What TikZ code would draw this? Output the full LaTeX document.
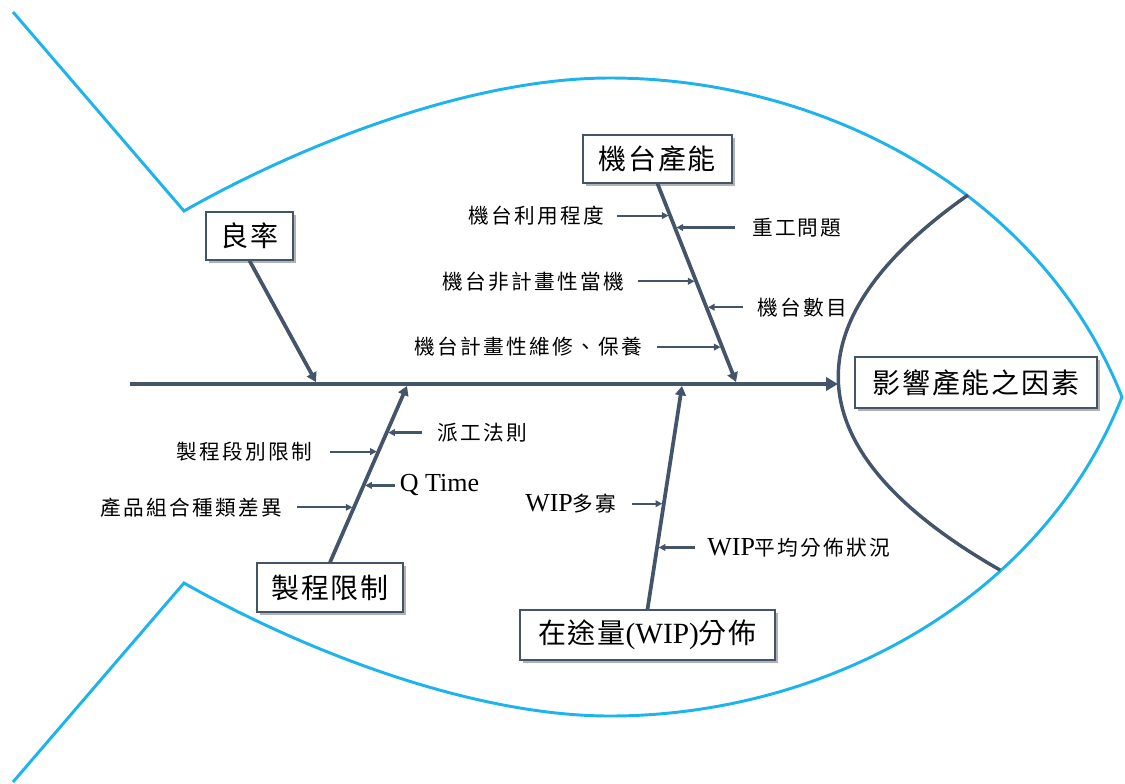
\documentclass[tikz,border=0pt]{standalone}
\usepackage{fontspec}
\setmainfont{Liberation Serif}
\newfontfamily\cjkbig{Noto Sans CJK TC}[LetterSpace=6]
\newfontfamily\cjksm{Noto Sans CJK TC}[LetterSpace=11]
\usetikzlibrary{arrows.meta,calc,shadows}
\definecolor{fishc}{HTML}{1DB3EC}
\definecolor{bonec}{HTML}{44546A}
\newcommand\latS[1]{{\rmfamily\fontsize{19.5}{22}\selectfont #1}}
\newcommand\latB[1]{{\rmfamily\fontsize{22}{24}\selectfont #1}}
\tikzset{
 fish/.style={draw=fishc, line width=2.2pt, line join=miter},
 gill/.style={draw=bonec, line width=2.6pt},
 spine/.style={draw=bonec, line width=3pt, -{Triangle[length=9pt,width=10pt]}},
 bone/.style={draw=bonec, line width=2.8pt, -{Triangle[length=7pt,width=8pt]}},
 sub/.style={draw=bonec, line width=1.6pt, shorten >=1.2pt, -{Triangle[length=5pt,width=5pt]}},
 box/.style={draw=bonec, line width=1pt, fill=white, inner sep=0pt,
   drop shadow={shadow xshift=2pt, shadow yshift=-2pt, opacity=0.3, fill=black},
   font=\cjkbig\fontsize{21}{24}\selectfont},
 lbl/.style={inner sep=0pt, text=black, font=\cjksm\fontsize{15.5}{18}\selectfont},
}
\begin{document}
\begin{tikzpicture}[x=0.75pt,y=-0.75pt]
\useasboundingbox (0,0) rectangle (1125,783);
% fish outline
\coordinate (tt) at (13,12);
\coordinate (vt) at (184,211);
\coordinate (apt) at (610,78);
\coordinate (nose) at (1122,397);
\coordinate (apb) at (610,716);
\coordinate (vb) at (184,583);
\coordinate (tb) at (13,782);
\draw[fish] (tt) -- (vt) .. controls (300,145) and (470,78) .. (apt)
  .. controls (820,78) and (1040,190) .. (nose)
  .. controls (1040,604) and (820,716) .. (apb)
  .. controls (470,716) and (300,649) .. (vb) -- (tb);
% gill
\coordinate (g0) at (968,195);
\coordinate (g1) at (1000,570);
\draw[gill] (g0) .. controls (790,320) and (790,450) .. (g1);
% spine
\coordinate (sp0) at (130,384);
\coordinate (sp1) at (838,384);
\draw[spine] (sp0) -- (sp1);
\coordinate (t1) at (316,382);
\coordinate (t2) at (736,382);
\coordinate (t3) at (407,386);
\coordinate (t4) at (682,386);
% boxes
\node[box, minimum width=65.3pt, minimum height=36pt] (b1) at (249.5,236) {良率};
\node[box, minimum width=111.8pt, minimum height=36pt] (b2) at (657.5,159) {機台產能};
\node[box, minimum width=109.5pt, minimum height=36.8pt] (b3) at (330,587.5) {製程限制};
\node[box, minimum width=191.3pt, minimum height=37.5pt] (b4) at (647.5,635) {在途量\latB{(WIP)}分佈};
\node[box, minimum width=181.5pt, minimum height=38.3pt] (eff) at (976,382.5) {影響產能之因素};
% bones
\draw[bone] (b1.south) -- (t1);
\draw[bone] (b2.south) -- (t2);
\draw[bone] (b3.north) -- (t3);
\draw[bone] (b4.north) -- (t4);
% machine bone causes
\coordinate (a1) at ($(b2.south)!0.161!(t2)$);
\coordinate (a2) at ($(b2.south)!0.221!(t2)$);
\coordinate (a3) at ($(b2.south)!0.492!(t2)$);
\coordinate (a4) at ($(b2.south)!0.623!(t2)$);
\coordinate (a5) at ($(b2.south)!0.824!(t2)$);
\coordinate (as1) at ($(a1)+(-53,0)$);
\coordinate (as2) at ($(a2)+(60,0)$);
\coordinate (as3) at ($(a3)+(-58,0)$);
\coordinate (as4) at ($(a4)+(37,0)$);
\coordinate (as5) at ($(a5)+(-65,0)$);
\draw[sub] (as1) -- (a1);
\draw[sub] (as2) -- (a2);
\draw[sub] (as3) -- (a3);
\draw[sub] (as4) -- (a4);
\draw[sub] (as5) -- (a5);
\node[lbl, anchor=east] (la1) at ($(as1)+(-13,0)$) {機台利用程度};
\node[lbl, anchor=west] (la2) at ($(as2)+(17,0)$) {重工問題};
\node[lbl, anchor=east] (la3) at ($(as3)+(-14,0)$) {機台非計畫性當機};
\node[lbl, anchor=west] (la4) at ($(as4)+(14,0)$) {機台數目};
\node[lbl, anchor=east] (la5) at ($(as5)+(-15,0)$) {機台計畫性維修、保養};
% process bone causes
\coordinate (p1) at ($(b3.north)!0.736!(t3)$);
\coordinate (p2) at ($(b3.north)!0.628!(t3)$);
\coordinate (p3) at ($(b3.north)!0.436!(t3)$);
\coordinate (p4) at ($(b3.north)!0.312!(t3)$);
\coordinate (ps1) at ($(p1)+(35,0)$);
\coordinate (ps2) at ($(p2)+(-48,0)$);
\coordinate (ps3) at ($(p3)+(31,0)$);
\coordinate (ps4) at ($(p4)+(-57,0)$);
\draw[sub] (ps1) -- (p1);
\draw[sub] (ps2) -- (p2);
\draw[sub] (ps3) -- (p3);
\draw[sub] (ps4) -- (p4);
\node[lbl, anchor=west] (lp1) at ($(ps1)+(16,0)$) {派工法則};
\node[lbl, anchor=east] (lp2) at ($(ps2)+(-18,0)$) {製程段別限制};
\node[lbl, anchor=west] (lp3) at ($(ps3)+(5,0)$) {\latS{Q Time}};
\node[lbl, anchor=east] (lp4) at ($(ps4)+(-15,0)$) {產品組合種類差異};
% WIP bone causes
\coordinate (w1) at ($(b4.north)!0.473!(t4)$);
\coordinate (w2) at ($(b4.north)!0.277!(t4)$);
\coordinate (ws1) at ($(w1)+(-32,0)$);
\coordinate (ws2) at ($(w2)+(38,0)$);
\draw[sub] (ws1) -- (w1);
\draw[sub] (ws2) -- (w2);
\node[lbl, anchor=east] (lw1) at ($(ws1)+(-15,0)$) {\latS{WIP}多寡};
\node[lbl, anchor=west] (lw2) at ($(ws2)+(12,0)$) {\latS{WIP}平均分佈狀況};
\end{tikzpicture}
\end{document}
